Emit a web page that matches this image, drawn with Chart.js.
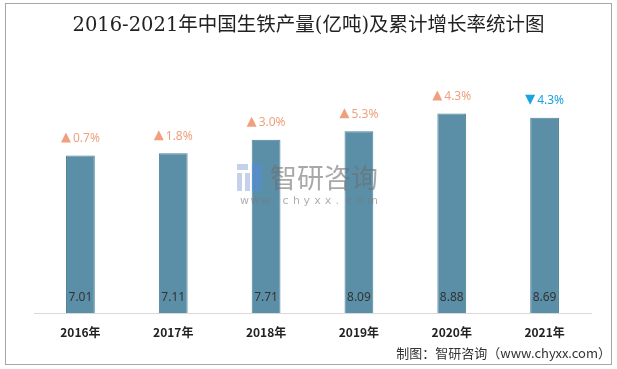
<!DOCTYPE html>
<html lang="zh-CN">
<head>
<meta charset="UTF-8" />
<title>2016-2021年中国生铁产量</title>
<script src="https://cdn.jsdelivr.net/npm/chart.js@4/dist/chart.umd.min.js"></script>
<style>
  html, body { margin: 0; padding: 0; background: #fff; }
  .frame {
    position: absolute; left: 5px; top: 3px;
    width: 605px; height: 360px;
    border: 1px solid #a6a6a6;
  }
  canvas { display: block; }
</style>
</head>
<body>
<div class="frame"><canvas id="chart" width="605" height="360"></canvas></div>
<script>
// dados
var years = ['2016年', '2017年', '2018年', '2019年', '2020年', '2021年'];
var output = [7.01, 7.11, 7.71, 8.09, 8.88, 8.69];   // 亿吨
var growth = [0.7, 1.8, 3.0, 5.3, 4.3, -4.3];        // 累计增长率 %

var UP = '#f0a07e';
var DOWN = '#1aa3e2';

// rotulos em cima e dentro das barras
var labels = {
  id: 'labels',
  afterDatasetsDraw(chart) {
    var ctx = chart.ctx;
    var meta = chart.getDatasetMeta(0);
    var yScale = chart.scales.y;
    ctx.save();
    meta.data.forEach(function (bar, i) {
      // valor no pe da barra
      ctx.font = '12px "Noto Sans", sans-serif';
      ctx.fillStyle = '#333';
      ctx.textAlign = 'center';
      ctx.textBaseline = 'middle';
      ctx.fillText(output[i].toFixed(2), bar.x, yScale.getPixelForValue(0) - 15);

      // crescimento acima
      var g = growth[i];
      var txt = Math.abs(g).toFixed(1) + '%';
      ctx.font = '12px "Noto Sans", sans-serif';
      var w = ctx.measureText(txt).width;
      var tw = 10;
      var total = tw + 2 + w;
      var x0 = bar.x - total / 2;
      var yc = bar.y - 18;
      ctx.fillStyle = g >= 0 ? UP : DOWN;
      ctx.beginPath();
      if (g >= 0) {
        ctx.moveTo(x0, yc + 5);
        ctx.lineTo(x0 + tw, yc + 5);
        ctx.lineTo(x0 + tw / 2, yc - 5);
      } else {
        ctx.moveTo(x0, yc - 5);
        ctx.lineTo(x0 + tw, yc - 5);
        ctx.lineTo(x0 + tw / 2, yc + 5);
      }
      ctx.closePath();
      ctx.fill();
      ctx.textAlign = 'left';
      ctx.fillText(txt, x0 + tw + 2, yc + 1);
    });
    ctx.restore();
  }
};

// marca d'agua
var watermark = {
  id: 'watermark',
  afterDraw(chart) {
    var ctx = chart.ctx;
    ctx.save();
    var x = 231, y = 160;
    // icone
    ctx.fillStyle = 'rgba(150,170,215,0.55)';
    ctx.fillRect(x, y, 11, 6);
    ctx.fillRect(x, y + 9, 5, 18);
    ctx.fillRect(x + 8, y + 9, 5, 18);
    ctx.fillStyle = 'rgba(80,140,220,0.55)';
    ctx.fillRect(x + 15, y, 10, 27);
    ctx.fillStyle = 'rgba(110,110,110,0.6)';
    ctx.font = '27px "Noto Sans CJK SC", sans-serif';
    ctx.textBaseline = 'middle';
    ctx.textAlign = 'left';
    ctx.fillText('智研咨询', x + 33, y + 14);
    ctx.font = '11px "DejaVu Sans", sans-serif';
    ctx.fillStyle = 'rgba(120,120,120,0.6)';
    var s = 'www.chyxx.com';
    var cx = x + 3;
    for (var k = 0; k < s.length; k++) {
      ctx.fillText(s[k], cx, y + 37);
      cx += 10.6;
    }
    ctx.restore();
  }
};

new Chart(document.getElementById('chart'), {
  type: 'bar',
  data: {
    labels: years,
    datasets: [{
      data: output,
      backgroundColor: '#5b8fa7',
      borderColor: '#4d8199',
      borderWidth: 1,
      categoryPercentage: 1,
      barPercentage: 0.31
    }]
  },
  plugins: [labels, watermark],
  options: {
    responsive: false,
    animation: false,
    layout: { padding: { left: 0, right: 0, top: 0, bottom: 3 } },
    plugins: {
      legend: { display: false },
      tooltip: { enabled: false },
      title: {
        display: true,
        text: '2016-2021年中国生铁产量(亿吨)及累计增长率统计图',
        color: '#222',
        font: { size: 19.5, family: '"DejaVu Serif", "Noto Sans CJK SC", serif', weight: 'normal' },
        padding: { top: 10, bottom: 51 }
      },
      subtitle: {
        display: true,
        position: 'bottom',
        align: 'end',
        text: '制图：智研咨询（www.chyxx.com）',
        color: '#333',
        font: { size: 13, family: '"Noto Sans CJK SC", sans-serif' },
        padding: { top: -6, bottom: 0 }
      }
    },
    scales: {
      x: {
        grid: { display: false, drawTicks: false },
        border: { color: '#d9d9d9', width: 1 },
        ticks: {
          color: '#222',
          padding: 12,
          font: { size: 12, weight: 'bold', family: '"Noto Sans CJK SC", sans-serif' }
        }
      },
      // eixo de valores sem rotulos, so reserva a margem esquerda
      y: {
        display: true,
        min: 0,
        max: 10,
        grid: { display: false },
        border: { display: false },
        ticks: { display: false },
        afterFit: function (s) { s.width = 28; }
      },
      // eixo vazio para reservar margem direita
      yr: {
        position: 'right',
        display: true,
        grid: { display: false },
        border: { display: false },
        ticks: { display: false },
        afterFit: function (s) { s.width = 20; }
      }
    }
  }
});
</script>
</body>
</html>
